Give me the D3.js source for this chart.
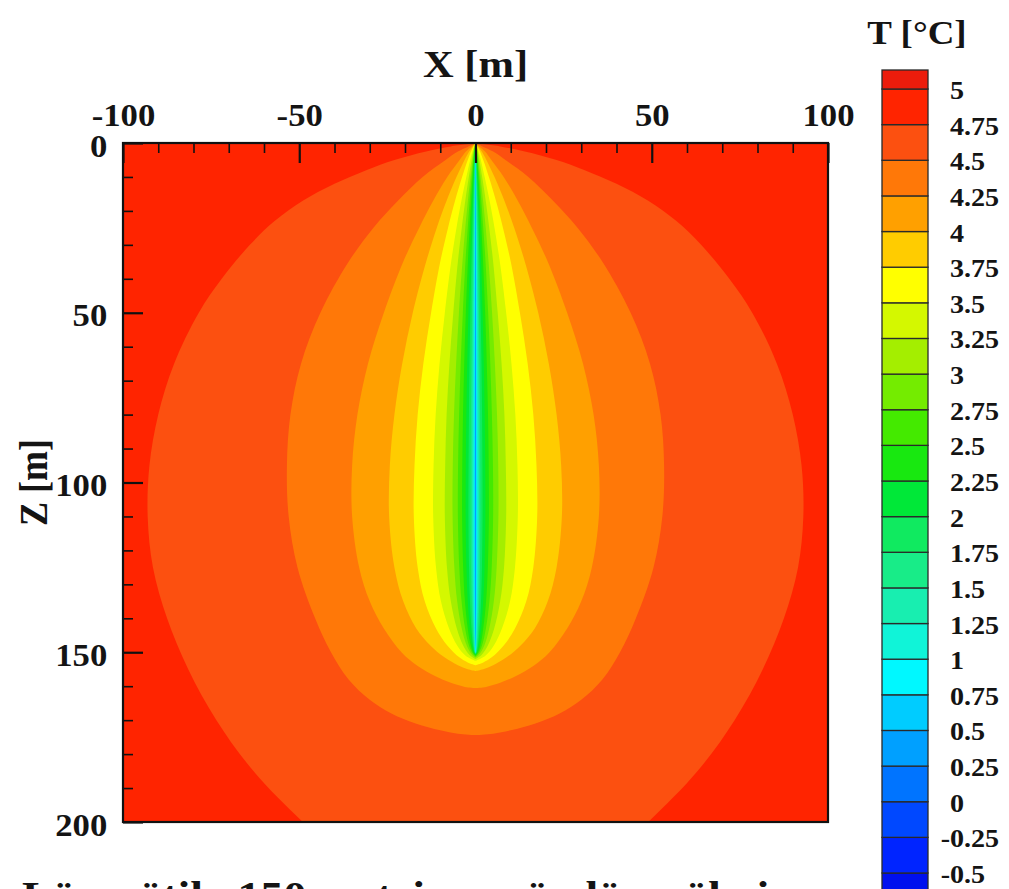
<!DOCTYPE html>
<html><head><meta charset="utf-8">
<script src="https://cdn.jsdelivr.net/npm/d3@7"></script>
<style>
html,body{margin:0;padding:0;background:#fff;}
svg{display:block;}
text{font-family:"Liberation Serif","Times New Roman",serif;font-weight:bold;fill:#141414;}
</style></head><body>
<svg id="chart" width="1009" height="889"></svg>
<script>
// ---------------- data ----------------
const xTicks = [-100, -50, 0, 50, 100];
const xTickLabels = ["-100", "-50", "0", "50", "100"];
const zTicks = [0, 50, 100, 150, 200];
const zTickLabels = ["0", "50", "100", "150", "200"];
const xMinorTicks = [-90,-80,-70,-60,-40,-30,-20,-10,10,20,30,40,60,70,80,90];
const zMinorTicks = [10,20,30,40,60,70,80,90,110,120,130,140,160,170,180,190];

// colour-bar thresholds (°C) and labels
const thresholds = [-0.5,-0.25,0,0.25,0.5,0.75,1,1.25,1.5,1.75,2,2.25,2.5,2.75,3,3.25,3.5,3.75,4,4.25,4.5,4.75,5];
const legendLabels = ["-0.5","-0.25","0","0.25","0.5","0.75","1","1.25","1.5","1.75","2","2.25","2.5","2.75","3","3.25","3.5","3.75","4","4.25","4.5","4.75","5"];
// band colours, from below -0.5 up to above 5
const bandColors = ["#0010ee","#0024ff","#0048ff","#0074ff","#00a0ff","#00ccff","#00f8ff","#10f4d8","#18eeb0","#18ec88","#10ea60","#00e838","#18e810","#44ea00","#74ec00","#a4ee00","#d4f800","#ffff00","#ffcc00","#ffa000","#ff7808","#fc5010","#ff2400","#ec1c0c"];

// isotherms: [depth z (m), half width |x| (m)]
const iso475 = [[0,0],[1,7],[2.5,14],[5,23],[8,31],[12,40],[17,49],[23,57],[30,64],[40,72],[50,78.5],[65,85.5],[80,90],[95,92.5],[110,93],[125,91.5],[140,87.5],[155,81.5],[170,73.5],[185,63],[200,49],[212,36]];
const iso450 = [[0,0],[1,2],[2.5,5],[5,8.5],[10,15],[17,22],[25,29],[35,36],[50,44],[65,49.5],[80,52.5],[95,53.5],[110,53],[125,50.5],[140,45.5],[150,41],[158,36],[164,30],[168,24],[171,17],[173,10],[174,5],[174.4,0]];
const iso425 = [[0,0],[1,1.1],[2.5,2.7],[5,4.5],[10,8],[17,12],[25,16],[35,20.5],[50,26],[65,30.5],[80,33.5],[95,35],[110,35],[125,33],[135,30],[143,26],[150,21],[154,16.5],[157,11.5],[159,7],[160.2,3],[160.5,0]];
const iso400 = [[0,0],[1,0.75],[2.5,1.8],[5,3.1],[10,5.4],[17,8.2],[25,11],[35,14],[50,17.8],[65,20.8],[80,23],[95,24.3],[110,24.5],[125,23],[135,20.5],[143,16.8],[148,12.8],[151.5,8.8],[153.8,5],[155,2.2],[155.5,0]];
const iso375 = [[0,0],[2,1.05],[5,2.2],[10,3.8],[17,5.8],[25,7.8],[35,10],[50,12.6],[65,14.8],[80,16.4],[95,17.3],[110,17.5],[125,16.4],[135,14.4],[143,11.2],[148,8],[151.5,4.6],[153,2.2],[153.8,0]];
const iso350 = [[0,0],[2,0.72],[5,1.5],[10,2.6],[17,4],[25,5.4],[35,6.9],[50,8.7],[65,10.2],[80,11.3],[95,11.9],[110,12],[125,11.2],[135,9.8],[143,7.5],[148,5.2],[151,2.8],[152.5,0]];
const iso325 = [[0,0],[2,0.52],[5,1.1],[10,1.9],[17,2.9],[25,3.9],[35,5],[50,6.3],[65,7.4],[80,8.2],[95,8.6],[110,8.7],[125,8.1],[135,7],[143,5.3],[148,3.5],[150.8,1.7],[152,0]];
const iso300 = [[0,0],[2,0.4],[5,0.82],[10,1.42],[17,2.15],[25,2.9],[35,3.7],[50,4.7],[65,5.5],[80,6.1],[95,6.45],[110,6.5],[125,6],[135,5.2],[143,3.9],[148,2.5],[150.6,1.1],[151.6,0]];
const iso275 = [[0,0],[2,0.3],[5,0.63],[10,1.1],[17,1.65],[25,2.2],[35,2.85],[50,3.6],[65,4.2],[80,4.65],[95,4.95],[110,5],[125,4.6],[135,3.95],[143,2.95],[148,1.85],[150.4,0.8],[151.3,0]];
const iso250 = [[0,0],[2,0.23],[5,0.48],[10,0.83],[17,1.25],[25,1.68],[35,2.15],[50,2.75],[65,3.2],[80,3.55],[95,3.75],[110,3.8],[125,3.5],[135,3],[143,2.2],[148,1.38],[150.3,0.58],[151,0]];
const iso225 = [[0,0],[2,0.17],[5,0.36],[10,0.62],[17,0.93],[25,1.25],[35,1.6],[50,2.02],[65,2.36],[80,2.6],[95,2.76],[110,2.8],[125,2.57],[135,2.2],[143,1.62],[148,1],[150.2,0.42],[150.8,0]];
const iso200 = [[0,0],[2,0.12],[5,0.26],[10,0.45],[17,0.67],[25,0.9],[35,1.15],[50,1.45],[65,1.7],[80,1.86],[95,1.97],[110,2],[125,1.83],[135,1.57],[143,1.15],[148,0.7],[150.1,0.3],[150.6,0]];
const iso175 = [[0,0],[2,0.09],[5,0.18],[10,0.31],[17,0.47],[25,0.63],[35,0.8],[50,1.01],[65,1.18],[80,1.3],[95,1.38],[110,1.4],[125,1.28],[135,1.1],[143,0.8],[148,0.49],[150,0.2],[150.4,0]];
const iso150 = [[0,0],[2,0.06],[5,0.13],[10,0.22],[17,0.33],[25,0.45],[35,0.57],[50,0.72],[65,0.84],[80,0.93],[95,0.98],[110,1],[125,0.92],[135,0.78],[143,0.57],[148,0.35],[150,0.14],[150.3,0]];
const iso125 = [[0,0],[3,0.06],[10,0.15],[25,0.3],[50,0.47],[80,0.6],[110,0.65],[135,0.52],[145,0.3],[150,0.08],[150.2,0]];
const iso100 = [[0,0],[3,0.04],[10,0.09],[25,0.18],[50,0.29],[80,0.37],[110,0.4],[135,0.32],[145,0.18],[150,0.05],[150.1,0]];
const iso075 = [[0,0],[5,0.04],[25,0.12],[50,0.18],[80,0.23],[110,0.25],[135,0.2],[145,0.11],[150,0]];
const iso050 = [[0,0],[5,0.02],[25,0.07],[50,0.11],[80,0.14],[110,0.15],[135,0.12],[145,0.06],[150,0]];

const isoLevels = [4.75, 4.5, 4.25, 4, 3.75, 3.5, 3.25, 3, 2.75, 2.5, 2.25, 2, 1.75, 1.5, 1.25, 1, 0.75, 0.5];
const isoShapes = [iso475, iso450, iso425, iso400, iso375, iso350, iso325, iso300, iso275, iso250, iso225, iso200, iso175, iso150, iso125, iso100, iso075, iso050];
const farFieldT = 4.9;

const xTitle = "X [m]";
const zTitle = "Z [m]";
const legendTitle = "T [°C]";
const caption = "Lämpötila 150 metrin syvän lämpökaivon";

// ---------------- drawing ----------------
const SX = 1.12; // horizontal stretch of the reference typography
const svg = d3.select("#chart");
const xS = d3.scaleLinear().domain([-100, 100]).range([123, 828]);
const zS = d3.scaleLinear().domain([0, 200]).range([143, 822]);
const color = d3.scaleThreshold().domain(thresholds).range(bandColors);

const defs = svg.append("defs");
defs.append("clipPath").attr("id", "plotClip").append("rect")
  .attr("x", xS(-100)).attr("y", zS(0))
  .attr("width", xS(100) - xS(-100)).attr("height", zS(200) - zS(0));

const field = svg.append("g").attr("clip-path", "url(#plotClip)");
field.append("rect")
  .attr("x", xS(-100)).attr("y", zS(0))
  .attr("width", xS(100) - xS(-100)).attr("height", zS(200) - zS(0))
  .attr("fill", color(farFieldT));

const area = d3.area()
  .curve(d3.curveCatmullRom.alpha(0.5))
  .y(d => zS(d[0]))
  .x0(d => xS(-d[1]))
  .x1(d => xS(d[1]));

isoShapes.forEach((shape, i) => {
  field.append("path")
    .attr("d", area(shape))
    .attr("fill", color(isoLevels[i] - 0.125));
});

// frame
svg.append("rect")
  .attr("x", xS(-100)).attr("y", zS(0))
  .attr("width", xS(100) - xS(-100)).attr("height", zS(200) - zS(0))
  .attr("fill", "none").attr("stroke", "#111").attr("stroke-width", 2.2);

function styleAxis(g, fs) {
  g.attr("font-size", null).attr("font-family", null);
  g.select(".domain").remove();
  g.selectAll(".tick line").attr("stroke", "#111");
  g.selectAll("text").style("font-size", fs + "px").attr("fill", "#141414");
}

// top axis (major)
const gx = svg.append("g").attr("transform", `translate(0,${zS(0)})`)
  .call(d3.axisTop(xS).tickValues(xTicks).tickFormat((d, i) => xTickLabels[i])
    .tickSizeInner(-20).tickSizeOuter(0).tickPadding(17));
styleAxis(gx, 31);
gx.selectAll(".tick line").attr("stroke-width", 2.2);
gx.selectAll("text").attr("transform", `scale(${SX},1)`);

// top axis (minor)
const gxm = svg.append("g").attr("transform", `translate(0,${zS(0)})`)
  .call(d3.axisTop(xS).tickValues(xMinorTicks).tickFormat("").tickSizeInner(-10).tickSizeOuter(0));
styleAxis(gxm, 10);
gxm.selectAll(".tick line").attr("stroke-width", 1.6);

// left axis (major)
const gy = svg.append("g").attr("transform", `translate(${xS(-100)},0)`)
  .call(d3.axisLeft(zS).tickValues(zTicks).tickFormat((d, i) => zTickLabels[i])
    .tickSizeInner(-20).tickSizeOuter(0).tickPadding(14));
styleAxis(gy, 31);
gy.selectAll(".tick line").attr("stroke-width", 2.2);
gy.selectAll("text").attr("dy", "0.42em").attr("transform", `scale(${SX},1)`);

// left axis (minor)
const gym = svg.append("g").attr("transform", `translate(${xS(-100)},0)`)
  .call(d3.axisLeft(zS).tickValues(zMinorTicks).tickFormat("").tickSizeInner(-10).tickSizeOuter(0));
styleAxis(gym, 10);
gym.selectAll(".tick line").attr("stroke-width", 1.6);

// axis titles
svg.append("text")
  .attr("transform", `translate(${(xS(-100) + xS(100)) / 2},77) scale(${SX},1)`)
  .attr("text-anchor", "middle").style("font-size", "38px").text(xTitle);
svg.append("text")
  .attr("transform", `translate(47,${zS(100)}) scale(${SX},1) rotate(-90)`)
  .attr("text-anchor", "middle").style("font-size", "36px").text(zTitle);

// colour bar
const yC = d3.scaleLinear().domain([5, -0.5]).range([89, 873]);
const cbX = 882, cbW = 46, cbTop = 70;
const cb = svg.append("g");
bandColors.forEach((c, i) => {
  const hi = i === bandColors.length - 1 ? null : thresholds[i];
  const lo = i === 0 ? thresholds[0] - 0.25 : thresholds[i - 1];
  const y1 = hi === null ? cbTop : yC(hi);
  const y2 = yC(lo);
  cb.append("rect")
    .attr("x", cbX).attr("y", y1).attr("width", cbW).attr("height", y2 - y1)
    .attr("fill", c).attr("stroke", "#2a2a2a").attr("stroke-width", 1.3);
});
const LSX = 1.08, LFS = 26;
thresholds.forEach((v, i) => {
  const lab = legendLabels[i];
  const shift = lab.startsWith("-") ? 0.333 * LFS * LSX : 0;
  svg.append("text")
    .attr("transform", `translate(${950 - shift},${yC(v) + 10}) scale(${LSX},1)`)
    .style("font-size", LFS + "px").text(lab);
});
svg.append("text")
  .attr("transform", `translate(917,44) scale(${SX},1)`)
  .attr("text-anchor", "middle").style("font-size", "33px").text(legendTitle);

// caption (cut by the bottom edge of the picture)
svg.append("text")
  .attr("transform", `translate(22,909) scale(${SX},1)`)
  .style("font-size", "41px").text(caption);
</script>
</body></html>
